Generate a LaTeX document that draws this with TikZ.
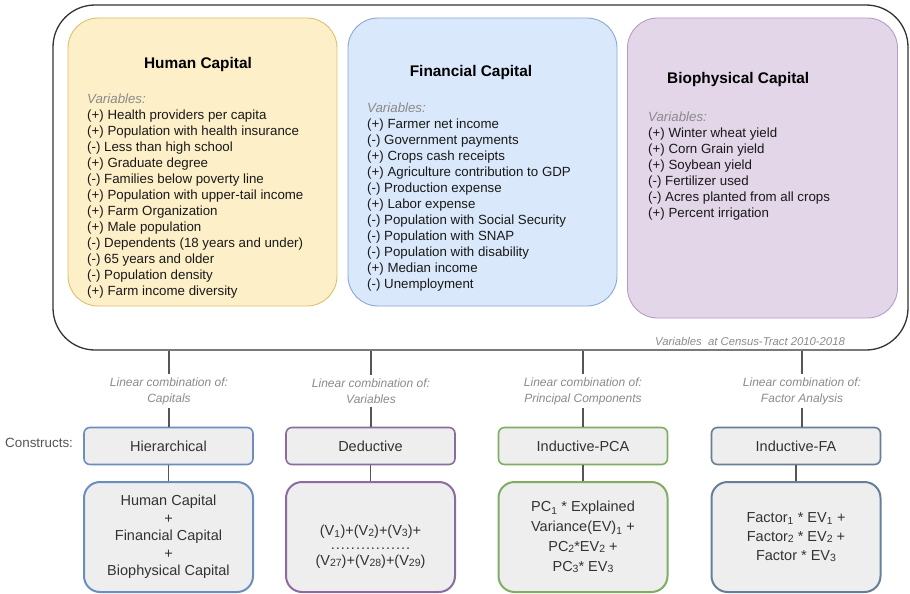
\documentclass[tikz,border=0pt]{standalone}
\usepackage{fontspec}
\setmainfont{Liberation Sans}
\definecolor{yelfill}{HTML}{FDEFC7}
\definecolor{yeldraw}{HTML}{DDBF6E}
\definecolor{blufill}{HTML}{DAE8FB}
\definecolor{bludraw}{HTML}{88A9D6}
\definecolor{purfill}{HTML}{E2D6E8}
\definecolor{purdraw}{HTML}{B69CC6}
\definecolor{boxfill}{HTML}{EEEEEE}
\definecolor{hierdraw}{HTML}{6C8EBF}
\definecolor{deddraw}{HTML}{8C6BA0}
\definecolor{pcadraw}{HTML}{7FAE63}
\definecolor{fadraw}{HTML}{667F99}
\definecolor{linecol}{HTML}{555555}
\definecolor{graytxt}{HTML}{8A8A8A}
\definecolor{darktxt}{HTML}{333333}
\tikzset{
  capbox/.style={draw, line width=0.9pt, rounded corners=30pt, inner sep=0pt},
  captitle/.style={font=\fontsize{15.4}{18}\selectfont\bfseries, text=black, inner sep=0pt},
  varlist/.style={font=\fontsize{13.3}{16}\selectfont, align=left, anchor=north west, inner sep=0pt, text=black!90},
  combo/.style={font=\fontsize{12}{16}\selectfont\itshape, text=graytxt, align=center, inner sep=3pt},
  cbox/.style={draw, fill=boxfill, line width=1.6pt, rounded corners=6pt, minimum width=169pt, minimum height=37pt, font=\fontsize{14.5}{17}\selectfont, text=darktxt},
  fbox/.style={draw, fill=boxfill, line width=2pt, rounded corners=16pt, minimum width=169pt, minimum height=110pt, font=\fontsize{14.5}{17.5}\selectfont, text=darktxt, align=center},
  conn/.style={draw=linecol, line width=1.4pt},
}
\newcommand{\vb}[1]{\textcolor{graytxt}{\itshape #1}}
\newcommand{\sm}[1]{\raisebox{-0.6pt}{\fontsize{10.5}{10}\selectfont #1}}
\begin{document}
\begin{tikzpicture}[x=1pt,y=-1pt]
\useasboundingbox (0,0) rectangle (910,594);
% outer box
\node[draw=black!80, line width=1.3pt, rounded corners=42pt, minimum width=855pt, minimum height=345pt, inner sep=0pt] (outer) at (480.5,177.5) {};
% capital boxes
\node[capbox, fill=yelfill, draw=yeldraw, minimum width=269pt, minimum height=288pt] (human) at (202.5,162) {};
\node[capbox, fill=blufill, draw=bludraw, minimum width=269pt, minimum height=288pt] (fin) at (482.5,162) {};
\node[capbox, fill=purfill, draw=purdraw, minimum width=270pt, minimum height=300pt] (bio) at (762.5,168) {};
\node[captitle] (humant) at (198,65) {Human Capital};
\node[captitle] (fint) at (471,73) {Financial Capital};
\node[captitle, anchor=west] (biot) at (667,80) {Biophysical Capital};
\node[varlist] (humanv) at (87,94) {\vb{Variables:}\\
(+) Health providers per capita\\
(+) Population with health insurance\\
(-) Less than high school\\
(+) Graduate degree\\
(-) Families below poverty line\\
(+) Population with upper-tail income\\
(+) Farm Organization\\
(+) Male population\\
(-) Dependents (18 years and under)\\
(-) 65 years and older\\
(-) Population density\\
(+) Farm income diversity};
\node[varlist] (finv) at (367,103) {\vb{Variables:}\\
(+) Farmer net income\\
(-) Government payments\\
(+) Crops cash receipts\\
(+) Agriculture contribution to GDP\\
(-) Production expense\\
(+) Labor expense\\
(-) Population with Social Security\\
(-) Population with SNAP\\
(-) Population with disability\\
(+) Median income\\
(-) Unemployment};
\node[varlist] (biov) at (648,112) {\vb{Variables:}\\
(+) Winter wheat yield\\
(+) Corn Grain yield\\
(+) Soybean yield\\
(-) Fertilizer used\\
(-) Acres planted from all crops\\
(+) Percent irrigation};
\node[font=\fontsize{11.3}{13}\selectfont\itshape, text=graytxt, inner sep=0pt] (census) at (750,341) {Variables\ \ at Census-Tract 2010-2018};
% combination labels
\node[combo] (l1) at (169,391) {Linear combination of:\\Capitals};
\node[combo] (l2) at (371,391) {Linear combination of:\\Variables};
\node[combo] (l3) at (583,391) {Linear combination of:\\Principal Components};
\node[combo] (l4) at (802,391) {Linear combination of:\\Factor Analysis};
% construct boxes
\node[font=\fontsize{13.4}{16}\selectfont, text=linecol, anchor=west, inner sep=0pt] (cons) at (5,443) {Constructs:};
\node[cbox, draw=hierdraw] (c1) at (168.5,446) {Hierarchical};
\node[cbox, draw=deddraw] (c2) at (370.5,446) {Deductive};
\node[cbox, draw=pcadraw] (c3) at (583,446) {Inductive-PCA};
\node[cbox, draw=fadraw] (c4) at (796,446) {Inductive-FA};
% formula boxes
\node[fbox, draw=hierdraw] (f1) at (168.5,537) {Human Capital\\+\\Financial Capital\\+\\Biophysical Capital};
\node[fbox, draw=deddraw] (f2) at (370.5,537) {};
\node[font=\fontsize{14.5}{15}\selectfont, text=darktxt, align=center, inner sep=0pt] (f2t) at (370.5,547) {(V\textsubscript{1})+(V\sm{2})+(V\sm{3})+\\[-1pt]\makebox[80pt]{\leaders\hbox to 5pt{\hss.\hss}\hfill}\\[1pt](V\sm{27})+(V\sm{28})+(V\sm{29})};
\node[fbox, draw=pcadraw, font=\fontsize{14.5}{20}\selectfont] (f3) at (583,537) {PC\textsubscript{1} * Explained\\Variance(EV)\textsubscript{1} +\\PC\sm{2}*EV\sm{2} +\\PC\sm{3}* EV\sm{3}};
\node[fbox, draw=fadraw, font=\fontsize{14.5}{19}\selectfont] (f4) at (796,537) {Factor\textsubscript{1} * EV\textsubscript{1} +\\Factor\sm{2} * EV\sm{2} +\\Factor * EV\sm{3}};
% connectors
\foreach \l/\c/\f in {l1/c1/f1, l2/c2/f2, l3/c3/f3, l4/c4/f4} {
  \draw[conn] (outer.south -| \l) -- (\l.north);
  \draw[conn] (\l.south) -- (\l.south |- \c.north);
  \draw[conn] (\c.south) -- (\f.north);
}
\end{tikzpicture}
\end{document}
